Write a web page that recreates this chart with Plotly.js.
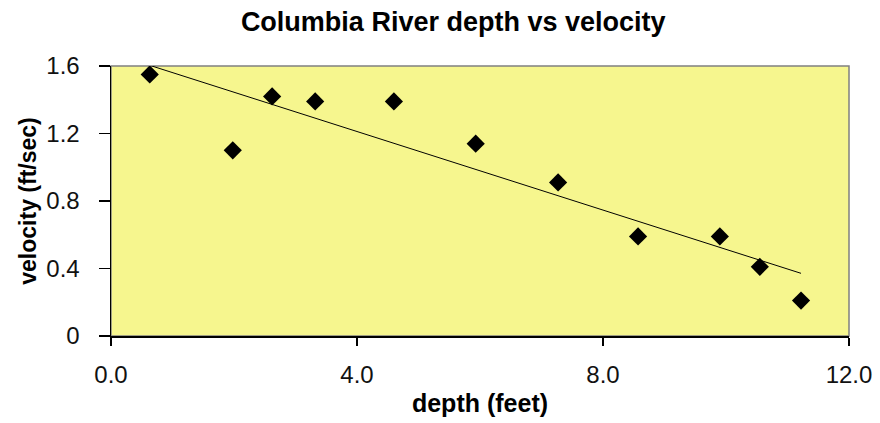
<!DOCTYPE html>
<html>
<head>
<meta charset="utf-8">
<script src="https://cdn.plot.ly/plotly-3.0.1.min.js"></script>
<style>
  html, body { margin: 0; padding: 0; background: #ffffff; }
  #chart { width: 880px; height: 423px; }
</style>
</head>
<body>
<div id="chart"></div>
<script>
// Data
var depthFeet = [0.63, 1.98, 2.62, 3.32, 4.60, 5.93, 7.27, 8.57, 9.90, 10.55, 11.22];
var velocityFtSec = [1.55, 1.10, 1.42, 1.39, 1.39, 1.14, 0.91, 0.59, 0.59, 0.41, 0.21];
var xTickVals = [0, 4, 8, 12];
var xTickText = ["0.0", "4.0", "8.0", "12.0"];
var yTickVals = [0, 0.4, 0.8, 1.2, 1.6];
var yTickText = ["0", "0.4", "0.8", "1.2", "1.6"];

// Least-squares linear trend line (as in the reference)
function linearFit(xs, ys) {
  var n = xs.length, sx = 0, sy = 0, sxx = 0, sxy = 0;
  for (var i = 0; i < n; i++) { sx += xs[i]; sy += ys[i]; sxx += xs[i] * xs[i]; sxy += xs[i] * ys[i]; }
  var m = (n * sxy - sx * sy) / (n * sxx - sx * sx);
  var b = (sy - m * sx) / n;
  return { m: m, b: b };
}
var fit = linearFit(depthFeet, velocityFtSec);
var xMin = Math.min.apply(null, depthFeet), xMax = Math.max.apply(null, depthFeet);
var trendX = [xMin, xMax];
var trendY = trendX.map(function (x) { return fit.m * x + fit.b; });

var FONT = "Arial, 'Liberation Sans', sans-serif";

var traces = [
  {
    x: trendX, y: trendY, type: "scatter", mode: "lines",
    line: { color: "#000000", width: 1 }, hoverinfo: "skip", showlegend: false
  },
  {
    x: depthFeet, y: velocityFtSec, type: "scatter", mode: "markers",
    marker: { symbol: "diamond", size: 14, color: "#000000" }, showlegend: false
  }
];

var layout = {
  width: 880, height: 423,
  margin: { l: 111, r: 31, t: 66, b: 87 },
  paper_bgcolor: "#ffffff",
  plot_bgcolor: "#F6F68E",
  showlegend: false,
  title: {
    text: "<b>Columbia River depth vs velocity</b>",
    font: { family: FONT, size: 27, color: "#000000" },
    x: 0.515, xanchor: "center", y: 0.948, yanchor: "middle"
  },
  xaxis: {
    range: [0, 12], tickvals: xTickVals, ticktext: xTickText,
    showgrid: false, zeroline: false,
    showline: true, linecolor: "#000000", linewidth: 1.5,
    ticks: "outside", ticklen: 8, tickcolor: "#000000", tickwidth: 1.5,
    ticklabelstandoff: 9,
    tickfont: { family: FONT, size: 24, color: "#111111" },
    title: { text: "<b>depth (feet)</b>", font: { family: FONT, size: 25, color: "#000000" }, standoff: 7 }
  },
  yaxis: {
    range: [0, 1.6], tickvals: yTickVals, ticktext: yTickText,
    showgrid: false, zeroline: false,
    showline: true, linecolor: "#000000", linewidth: 1.5,
    ticks: "outside", ticklen: 11, tickcolor: "#000000", tickwidth: 1.5,
    ticklabelstandoff: 14,
    tickfont: { family: FONT, size: 24, color: "#111111" },
    title: { text: "<b>velocity (ft/sec)</b>", font: { family: FONT, size: 23, color: "#000000" }, standoff: 3 }
  },
  shapes: [
    {
      type: "rect", xref: "paper", yref: "paper", x0: 0, x1: 1, y0: 0, y1: 1,
      line: { color: "#808080", width: 1.5 }, layer: "below"
    }
  ]
};

Plotly.newPlot("chart", traces, layout, { staticPlot: true, displayModeBar: false });
</script>
</body>
</html>
